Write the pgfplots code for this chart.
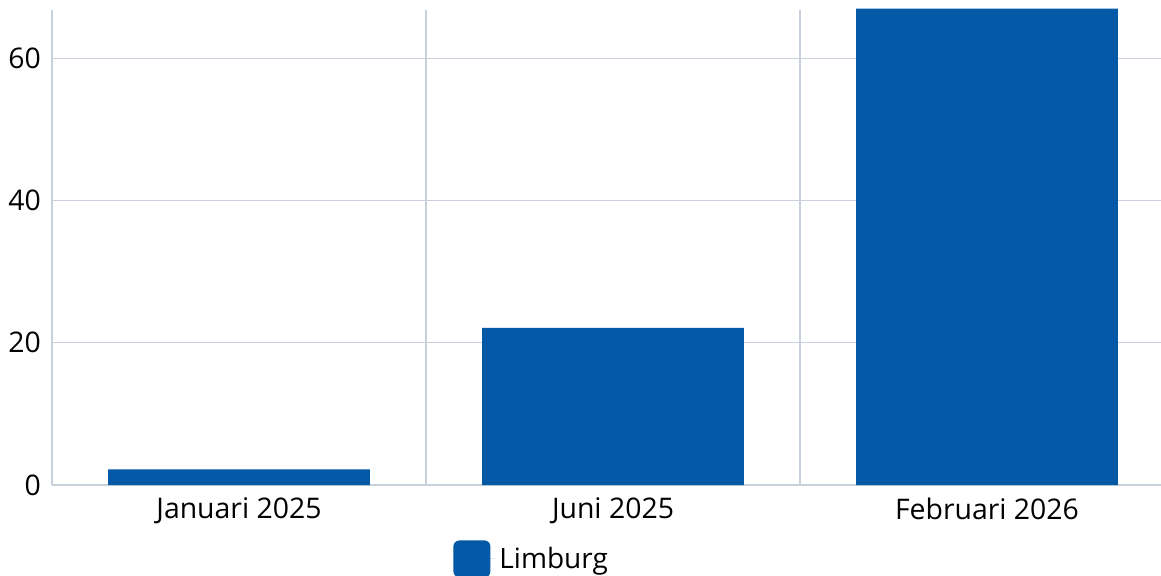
\documentclass[border=0pt]{standalone}
\usepackage{pgfplots}
\pgfplotsset{compat=1.18}
\usepackage{fontspec}
\setmainfont{Open Sans}
\definecolor{barblue}{HTML}{0359A5}
\definecolor{gridc}{HTML}{C8D0DC}
\begin{document}
\begin{tikzpicture}
\begin{axis}[
  at={(0pt,0pt)}, anchor=south west,
  scale only axis, width=561pt, height=237.5pt,
  xmin=-0.5, xmax=2.5, ymin=0, ymax=66.8,
  clip=false,
  xtick={0,1,2}, xticklabels={Januari 2025,Juni 2025,Februari 2026},
  minor xtick={-0.5,0.5,1.5,2.5},
  ytick={0,20,40,60},
  xmajorgrids=false, xminorgrids=true, ymajorgrids=true,
  grid style={gridc, line width=0.6pt},
  minor grid style={gridc, line width=0.6pt},
  axis x line*=bottom, axis y line*=left,
  axis line style={gridc, line width=0.6pt, -},
  tick style={draw=none},
  major tick length=0pt, minor tick length=0pt,
  ticklabel style={font=\fontsize{14.2}{16}\selectfont, text=black},
  /pgf/number format/assume math mode=true,
  xticklabel style={yshift=-3pt},
  yticklabel style={xshift=-2pt},
  legend style={at={(0.3574,-0.1158)}, anchor=north west, draw=none, fill=none,
    inner sep=0pt, font=\fontsize{14}{16}\selectfont, legend cell align=left},
  legend image code/.code={\fill[barblue, rounded corners=3pt] (0pt,-9.25pt) rectangle (18.5pt,9.25pt);
    \path (0pt,0pt) -- (21pt,0pt);},
]
\addplot[ybar, bar width=0.70, fill=barblue, draw=none, bar shift=0pt] coordinates {(0,2.2) (1,22.1) (2,67.0)};
\addlegendentry{Limburg}
\end{axis}
\pgfresetboundingbox
\path[use as bounding box] (-26pt,-45pt) rectangle (554.5pt,242.5pt);
\end{tikzpicture}
\end{document}
